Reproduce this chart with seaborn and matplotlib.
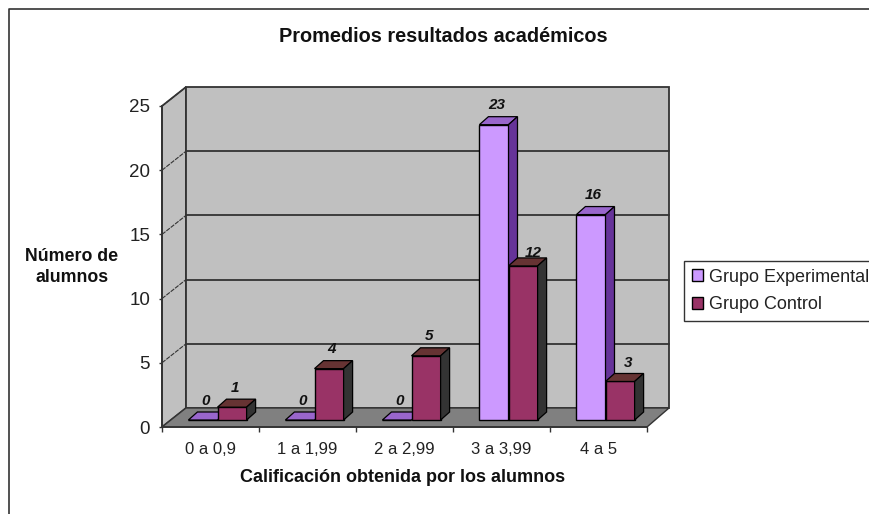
"""Promedios resultados academicos: Excel-style 3D bars drawn on a seaborn barplot."""

import matplotlib
matplotlib.use('Agg')
import matplotlib.pyplot as plt
from matplotlib.lines import Line2D
from matplotlib.patches import Polygon
import numpy as np
import pandas as pd
import seaborn as sns

CATEGORIES = ['0 a 0,9', '1 a 1,99', '2 a 2,99', '3 a 3,99', '4 a 5']
EXPERIMENTAL = [0, 0, 0, 23, 16]
CONTROL = [1, 4, 5, 12, 3]
SERIES = ['Grupo Experimental', 'Grupo Control']
Y_TICKS = [0, 5, 10, 15, 20, 25]

W, H = 870, 514
LEFT, RIGHT, BOTTOM, TOP = 162, 647, 427, 106
PX = 5 / (RIGHT - LEFT)      # data units per pixel, x
PY = 25 / (BOTTOM - TOP)     # data units per pixel, y
LINE = '#333333'

FRONT = {SERIES[0]: '#CC99FF', SERIES[1]: '#993366'}
TOPS = {SERIES[0]: '#9966CC', SERIES[1]: '#663333'}
SIDES = {SERIES[0]: '#663399', SERIES[1]: '#333333'}
# Excel pushed these two labels off their bars, offset in points
LABEL_NUDGE = {(SERIES[1], 12): (5, -5), (SERIES[1], 3): (4, -1)}

sns.set_style('white')
plt.rcParams['font.family'] = ['Liberation Sans', 'DejaVu Sans']

df = pd.DataFrame({
    'cat': CATEGORIES * 2,
    'n': EXPERIMENTAL + CONTROL,
    'grupo': [SERIES[0]] * 5 + [SERIES[1]] * 5,
})

fig = plt.figure(figsize=(W / 100, H / 100), dpi=100)
ax = fig.add_axes([LEFT / W, 1 - BOTTOM / H, (RIGHT - LEFT) / W, (BOTTOM - TOP) / H])
ax.patch.set_alpha(0)
sns.barplot(df, x='cat', y='n', hue='grupo', order=CATEGORIES, hue_order=SERIES,
            palette=FRONT, saturation=1, width=0.6, gap=0, edgecolor='black', linewidth=1,
            ax=ax, zorder=3)
ax.set_xlim(-0.5, 4.5)
ax.set_ylim(0, 25)
xmin, xmax = -0.5, 4.5

# --- walls and floor ---
bx, by = 24 * PX, 19 * PY
xr = xmax + 22 * PX
ax.add_patch(Polygon([(xmin, 0), (xmin + bx, by), (xmin + bx, 25 + by), (xmin, 25)],
                     fc='#C0C0C0', ec=LINE, lw=1.3, clip_on=False, zorder=0.5))
ax.add_patch(Polygon([(xmin + bx, by), (xr, by), (xr, 25 + by), (xmin + bx, 25 + by)],
                     fc='#C0C0C0', ec=LINE, lw=1.3, clip_on=False, zorder=0.5))
ax.add_patch(Polygon([(xmin, 0), (xmin + bx, by), (xr, by), (xmax, 0)],
                     fc='#808080', ec=LINE, lw=1, clip_on=False, zorder=0.6))
for v in Y_TICKS[1:-1]:
    ax.plot([xmin + bx, xr], [v + by, v + by], color=LINE, lw=1.3, clip_on=False, zorder=0.7)
for v in Y_TICKS[1:]:
    ax.plot([xmin, xmin + bx], [v, v + by], color=LINE, lw=0.8, ls=(0, (4, 1)),
            clip_on=False, zorder=0.7)

# --- depth faces on the seaborn bars ---
sx, sy = 7 * PX, 7 * PY     # bars stand inside the floor
dx, dy = 9 * PX, 8 * PY     # bar depth
for z, (name, bars) in enumerate(zip(SERIES, ax.containers)):
    for bar in bars:
        bar.set_x(bar.get_x() + sx)
        bar.set_y(bar.get_y() + sy)
        bar.set_zorder(3 + z)
        x0, x1 = bar.get_x(), bar.get_x() + bar.get_width()
        y0, y1 = bar.get_y(), bar.get_y() + bar.get_height()
        ax.add_patch(Polygon([(x0, y1), (x0 + dx, y1 + dy), (x1 + dx, y1 + dy), (x1, y1)],
                             fc=TOPS[name], ec='black', lw=0.9, clip_on=False, zorder=3 + z))
        if y1 > y0:
            ax.add_patch(Polygon([(x1, y0), (x1 + dx, y0 + dy), (x1 + dx, y1 + dy), (x1, y1)],
                                 fc=SIDES[name], ec='black', lw=0.9, clip_on=False, zorder=3 + z))
        value = int(bar.get_height())
        nx, ny = LABEL_NUDGE.get((name, value), (0, 0))
        ax.annotate(f'{value}', ((x0 + x1) / 2, y1), xytext=(2 + nx, 14 + ny),
                    textcoords='offset points', ha='center', va='center', fontsize=11,
                    fontweight='bold', fontstyle='italic', color='#111111', zorder=6)

# --- axes ---
sns.despine(ax=ax)
ax.spines['left'].set_color(LINE)
ax.spines['bottom'].set_color(LINE)
ax.spines['left'].set_linewidth(1.3)
ax.spines['bottom'].set_linewidth(1.3)
ax.set_xlabel('')
ax.set_ylabel('')
ax.set_yticks(Y_TICKS)
ax.set_xticks(np.arange(xmin, xmax + 1), minor=True)
ax.tick_params(axis='y', left=True, length=2.5, width=1, color=LINE, pad=6,
               labelsize=13.5, labelcolor='#222222')
ax.tick_params(axis='x', which='major', bottom=False, pad=7, labelsize=12,
               labelcolor='#222222')
ax.tick_params(axis='x', which='minor', bottom=True, length=3.5, width=1, color=LINE)

# --- legend, runs off the right of the picture ---
handles, labels = ax.get_legend_handles_labels()
ax.get_legend().remove()
leg = fig.legend(handles, labels, loc='upper left',
                 bbox_to_anchor=(684 / W, 1 - 261 / H), fontsize=13, frameon=True,
                 fancybox=False, edgecolor=LINE, framealpha=1, borderaxespad=0,
                 handlelength=0.65, handleheight=0.65, handletextpad=0.3,
                 labelspacing=0.6, borderpad=0.42, labelcolor='#222222')
leg.get_frame().set_linewidth(1)

# --- titles ---
fig.text(443 / W, 1 - 37 / H, 'Promedios resultados académicos', ha='center', va='center',
         fontsize=14.3, fontweight='bold', color='#111111')
fig.text(403 / W, 1 - 477 / H, 'Calificación obtenida por los alumnos', ha='center',
         va='center', fontsize=13, fontweight='bold', color='#111111')
fig.text(72 / W, 1 - 267 / H, 'Número de\nalumnos', ha='center', va='center',
         fontsize=12.8, fontweight='bold', color='#111111', linespacing=1.35)

# --- chart area border ---
fig.add_artist(Line2D([9 / W, 9 / W, 1], [0, 1 - 8.5 / H, 1 - 8.5 / H],
                      color=LINE, lw=1.2))

fig.savefig('out.png', dpi=100)
